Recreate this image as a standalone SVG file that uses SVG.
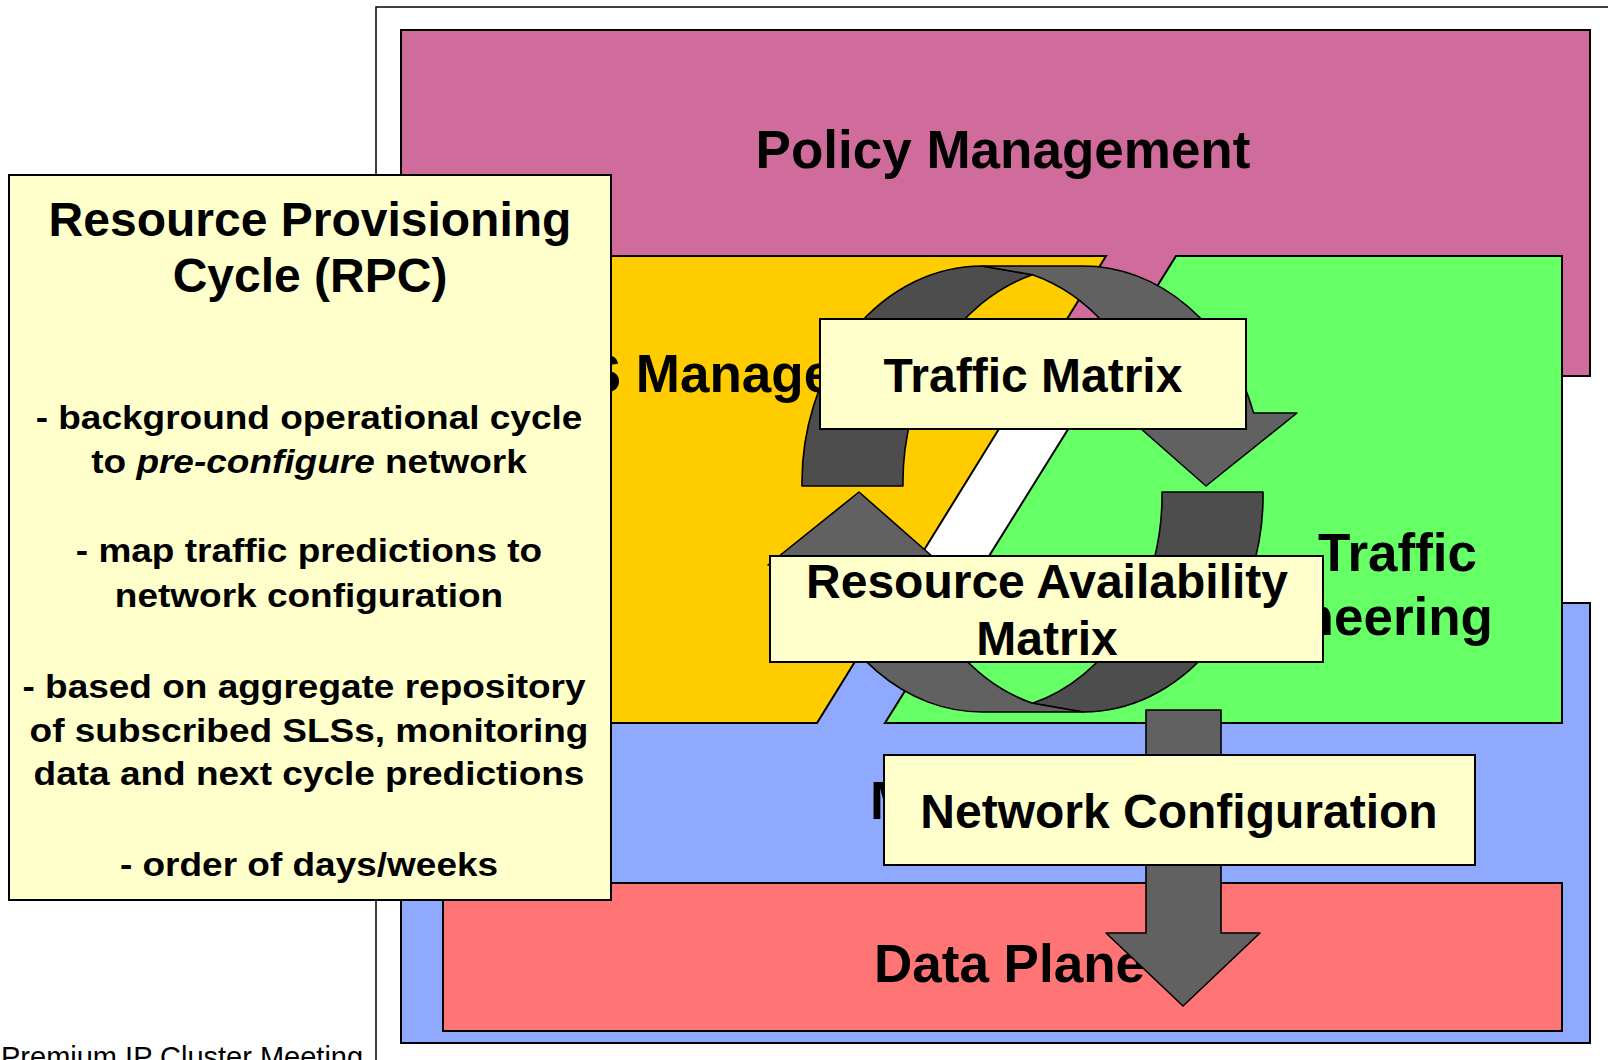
<svg xmlns="http://www.w3.org/2000/svg" width="1608" height="1060" viewBox="0 0 1608 1060">
<style>
.box{stroke:#000;stroke-width:2}
.lbl{font-family:"Liberation Sans",Arial,sans-serif;font-weight:bold;fill:#000}
.big{font-size:53px}
.mid{font-size:48px}
.rpc{font-size:34px;text-anchor:middle}
.rib{stroke:#000;stroke-width:1.6;stroke-linejoin:round}
.dark{fill:#4d4d4d}
.light{fill:#616161}
.note{fill:#ffffcc}
</style>
<rect x="0" y="0" width="1608" height="1060" fill="#fff"/>
<rect id="frame" x="376" y="7" width="1300" height="1100" fill="#fff" stroke="#000" stroke-width="1.5"/>

<g id="policy-management">
<rect class="box" x="401" y="30" width="1189" height="346" fill="#cf6c9b"/>
<text class="lbl big" x="1003" y="168" text-anchor="middle">Policy Management</text>
</g>
<g id="monitoring">
<rect class="box" x="401" y="603" width="1189" height="440" fill="#8fa9ff"/>
<text class="lbl big" x="870" y="819">Monitoring</text>
</g>
<g id="data-plane">
<rect class="box" x="443" y="883" width="1119" height="148" fill="#ff7575"/>
<text class="lbl big" x="874" y="982">Data Plane</text>
</g>
<g id="sls-management">
<polygon class="box" points="431,256 1106,256 817,723 431,723" fill="#ffcc00"/>
<text class="lbl big" x="518" y="392">SLS Management</text>
</g>
<g id="traffic-engineering">
<polygon class="box" points="1176,256 1562,256 1562,723 885,723" fill="#66ff66"/>
<text class="lbl big" x="1318" y="571">Traffic</text>
<text class="lbl big" x="1493" y="635" text-anchor="end">Engineering</text>
</g>

<g id="connectors">
<polygon class="rib light" points="1146,710 1221,710 1221,933 1260,933 1183,1006 1106,933 1146,933"/>
<g id="cycle-top">
<path class="rib dark" d="M802,486 A180 216 0 0 1 982,266 L1032.5,274.7 A180 216 0 0 0 903,486 Z"/>
<path class="rib light" d="M982,266 L1083,266 A180 216 0 0 1 1253.6,413 L1297,413 L1206,486 L1123,413 L1152.6,413 A180 216 0 0 0 1032.5,274.7 Z"/>
</g>
<g id="cycle-bottom" transform="rotate(180 1032.5 489)">
<path class="rib dark" d="M802,486 A180 216 0 0 1 982,266 L1032.5,274.7 A180 216 0 0 0 903,486 Z"/>
<path class="rib light" d="M982,266 L1083,266 A180 216 0 0 1 1253.6,413 L1297,413 L1206,486 L1123,413 L1152.6,413 A180 216 0 0 0 1032.5,274.7 Z"/>
</g>
</g>

<g id="traffic-matrix">
<rect class="box note" x="820" y="319" width="426" height="110"/>
<text class="lbl mid" x="1033" y="392" text-anchor="middle">Traffic Matrix</text>
</g>
<g id="resource-availability-matrix">
<rect class="box note" x="770" y="556" width="553" height="106"/>
<text class="lbl mid" x="1047" y="598" text-anchor="middle">Resource Availability</text>
<text class="lbl mid" x="1047" y="655" text-anchor="middle">Matrix</text>
</g>
<g id="network-configuration">
<rect class="box note" x="884" y="755" width="591" height="110"/>
<text class="lbl mid" x="1179" y="828" text-anchor="middle">Network Configuration</text>
</g>

<g id="rpc">
<rect class="box note" x="9" y="175" width="602" height="725"/>
<text class="lbl mid" x="310" y="236" text-anchor="middle">Resource Provisioning</text>
<text class="lbl mid" x="310" y="292" text-anchor="middle">Cycle (RPC)</text>
<g transform="translate(309 0) scale(1.088 1)">
<text class="lbl rpc" x="0" y="429">- background operational cycle</text>
<text class="lbl rpc" x="0" y="473">to <tspan font-style="italic">pre-configure</tspan> network</text>
<text class="lbl rpc" x="0" y="562">- map traffic predictions to</text>
<text class="lbl rpc" x="0" y="607">network configuration</text>
<text class="lbl rpc" x="-4.6" y="698">- based on aggregate repository</text>
<text class="lbl rpc" x="0" y="742">of subscribed SLSs, monitoring</text>
<text class="lbl rpc" x="0" y="785">data and next cycle predictions</text>
<text class="lbl rpc" x="0" y="876">- order of days/weeks</text>
</g>
</g>

<text x="1" y="1067" font-family="'Liberation Sans',Arial,sans-serif" font-size="29" fill="#000">Premium IP Cluster Meeting</text>
</svg>
